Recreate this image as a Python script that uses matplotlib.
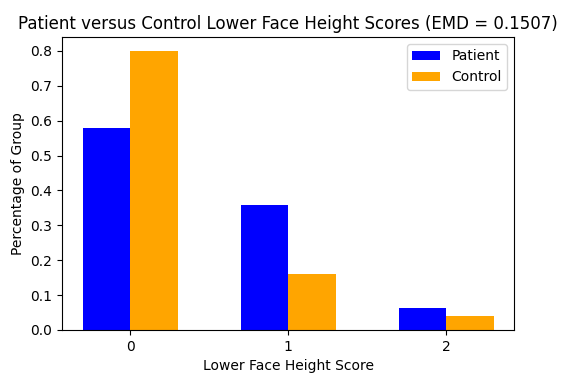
import numpy as np
from matplotlib import pyplot as plt

scores = [0, 1, 2]
patient = [37 / 64, 23 / 64, 4 / 64]
control = [20 / 25, 4 / 25, 1 / 25]
emd = 0.1507

width = 0.3
x = np.array(scores)

fig = plt.figure(figsize=(5.65, 3.85), dpi=100)
ax = fig.add_axes([0.11, 0.143, 0.80, 0.761])
ax.bar(x - width / 2, patient, width, color='blue', label='Patient')
ax.bar(x + width / 2, control, width, color='orange', label='Control')
ax.set_xticks(x)
ax.set_xlabel('Lower Face Height Score')
ax.set_ylabel('Percentage of Group')
ax.set_title('Patient versus Control Lower Face Height Scores (EMD = %.4f)' % emd)
ax.legend(loc='upper right')
fig.savefig('out.png')
